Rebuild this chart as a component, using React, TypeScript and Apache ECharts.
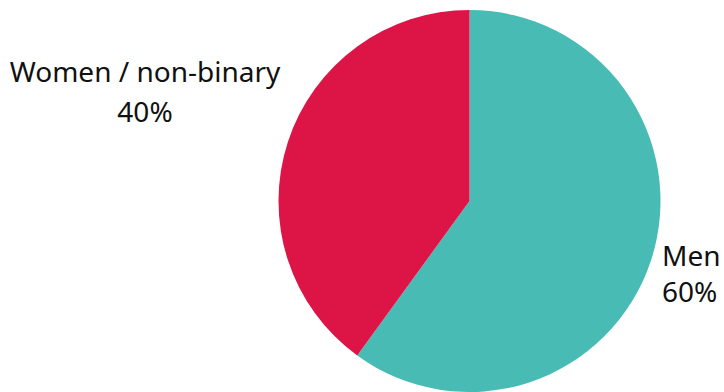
import React, { useEffect, useRef } from "react";
import * as echarts from "echarts";

const categories = ["Men", "Women / non-binary"];
const values = [60, 40];
const colors = ["#48BBB5", "#DD1547"];

export default function App() {
  const ref = useRef<HTMLDivElement>(null);
  useEffect(() => {
    if (!ref.current) return;
    const chart = echarts.init(ref.current, undefined, { renderer: "svg" });
    chart.setOption({
      animation: false,
      backgroundColor: "#ffffff",
      series: [
        {
          type: "pie",
          center: [469.5, 201],
          radius: 191,
          startAngle: 90,
          clockwise: true,
          avoidLabelOverlap: false,
          data: categories.map((name, i) => ({
            name,
            value: values[i],
            itemStyle: { color: colors[i], borderWidth: 0 },
            label: { lineHeight: i === 0 ? 36 : 40 },
          })),
          label: {
            show: true,
            position: "outside",
            formatter: "{b}\n{d}%",
            fontFamily: "Noto Sans",
            fontSize: 28,
            color: "#111111",
          },
          labelLine: { show: false },
          labelLayout: (params: any) =>
            params.dataIndex === 0
              ? { x: 662, y: 273, align: "left", verticalAlign: "middle" }
              : { x: 145, y: 91, align: "center", verticalAlign: "middle" },
        },
      ],
    });
    return () => chart.dispose();
  }, []);
  return (
    <div
      ref={ref}
      style={{ position: "absolute", left: 0, top: 0, width: 724, height: 392 }}
    />
  );
}
